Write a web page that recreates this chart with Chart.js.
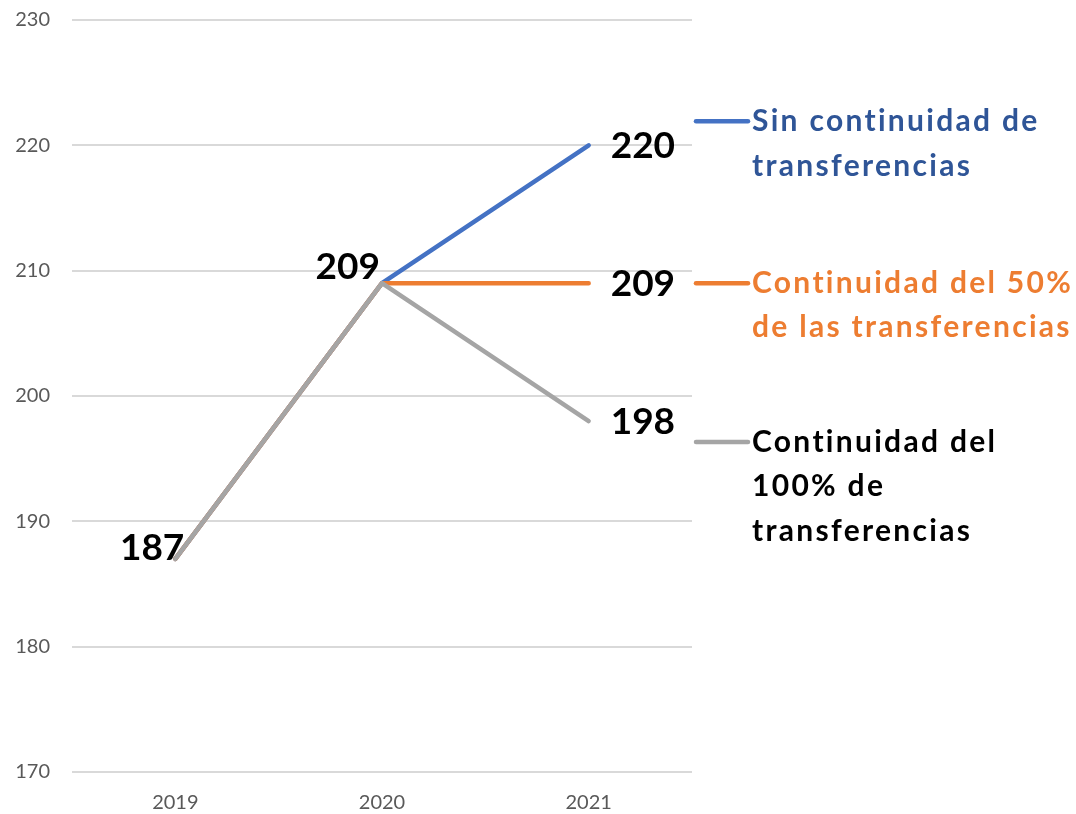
<!DOCTYPE html>
<html>
<head>
<meta charset="utf-8">
<script src="https://cdn.jsdelivr.net/npm/chart.js@4"></script>
<style>
  html, body { margin: 0; padding: 0; background: #fff; }
  #wrap { width: 1076px; height: 814px; }
</style>
</head>
<body>
<div id="wrap"><canvas id="chart" width="1076" height="814"></canvas></div>
<script>
// Data
const years = ["2019", "2020", "2021"];
const sinContinuidad = [187, 209, 220];
const continuidad50 = [187, 209, 209];
const continuidad100 = [187, 209, 198];
const yTicks = [170, 180, 190, 200, 210, 220, 230];

// Series names shown at the right (one entry per text line)
const names = {
  sin: ["Sin continuidad de", "transferencias"],
  c50: ["Continuidad del 50%", "de las transferencias"],
  c100: ["Continuidad del", "100% de", "transferencias"],
};

const BLUE = "#4472C4";
const ORANGE = "#ED7D31";
const GRAY = "#A5A5A5";

// Value labels + right-hand legend
const labelsPlugin = {
  id: "labelsPlugin",
  afterDatasetsDraw(chart) {
    const ctx = chart.ctx;
    const x = chart.scales.x;
    const y = chart.scales.y;
    const area = chart.chartArea;

    ctx.save();
    ctx.fillStyle = "#000";
    ctx.font = "bold 37px Lato";

    // 187 / 209 on the shared part
    ctx.textAlign = "right";
    ctx.textBaseline = "alphabetic";
    ctx.fillText(String(continuidad100[0]), x.getPixelForValue(0) + 9, y.getPixelForValue(continuidad100[0]) + 1);
    ctx.fillText(String(continuidad100[1]), x.getPixelForValue(1) - 2, y.getPixelForValue(continuidad100[1]) - 4);

    // end values
    ctx.textAlign = "left";
    ctx.textBaseline = "middle";
    const x21 = x.getPixelForValue(2) + 22;
    ctx.fillText(String(sinContinuidad[2]), x21, y.getPixelForValue(sinContinuidad[2]) + 1);
    ctx.fillText(String(continuidad50[2]), x21, y.getPixelForValue(continuidad50[2]) + 1);
    ctx.fillText(String(continuidad100[2]), x21, y.getPixelForValue(continuidad100[2]) + 1);

    // legend entries with connector lines
    const entries = [
      { lines: names.sin, line: BLUE, text: "#2F5597", yPos: y.getPixelForValue(sinContinuidad[2]) - 24 },
      { lines: names.c50, line: ORANGE, text: ORANGE, yPos: y.getPixelForValue(continuidad50[2]) },
      { lines: names.c100, line: GRAY, text: "#000", yPos: y.getPixelForValue(continuidad100[2]) + 21 },
    ];
    const lx0 = area.right + 4;
    const lx1 = area.right + 56;
    ctx.font = "bold 30px Lato";
    ctx.letterSpacing = "2.3px";
    ctx.textBaseline = "middle";
    entries.forEach((e) => {
      ctx.strokeStyle = e.line;
      ctx.lineWidth = 4.5;
      ctx.lineCap = "round";
      ctx.beginPath();
      ctx.moveTo(lx0, e.yPos);
      ctx.lineTo(lx1, e.yPos);
      ctx.stroke();
      ctx.fillStyle = e.text;
      e.lines.forEach((t, i) => {
        ctx.fillText(t, lx1 + 4, e.yPos + i * 44.5);
      });
    });
    ctx.restore();
  },
};

const ds = (label, data, color) => ({
  label: label,
  data: data,
  borderColor: color,
  backgroundColor: color,
  borderWidth: 4.5,
  borderCapStyle: "round",
  borderJoinStyle: "round",
  pointRadius: 0,
  tension: 0,
});

new Chart(document.getElementById("chart"), {
  type: "line",
  data: {
    labels: years,
    datasets: [
      // first dataset is drawn on top
      ds(names.c100.join(" "), continuidad100, GRAY),
      ds(names.c50.join(" "), continuidad50, ORANGE),
      ds(names.sin.join(" "), sinContinuidad, BLUE),
    ],
  },
  options: {
    responsive: false,
    animation: false,
    layout: { autoPadding: false, padding: { top: 20, right: 384, left: 0, bottom: 0 } },
    plugins: {
      legend: { display: false },
      tooltip: { enabled: false },
    },
    scales: {
      x: {
        offset: true,
        grid: { display: false, drawTicks: false },
        border: { display: false },
        ticks: { color: "#595959", font: { family: "Lato", size: 20 }, padding: 19 },
        afterFit(scale) { scale.height = 42; },
      },
      y: {
        min: yTicks[0],
        max: yTicks[yTicks.length - 1],
        afterBuildTicks(scale) { scale.ticks = yTicks.map((v) => ({ value: v })); },
        grid: { color: "#D9D9D9", lineWidth: 2, drawTicks: false },
        border: { display: false },
        ticks: { color: "#595959", font: { family: "Lato", size: 20 }, padding: 22 },
        afterFit(scale) {
          scale.width = 72;
          scale.paddingTop = 0;
          scale.paddingBottom = 0;
        },
      },
    },
  },
  plugins: [labelsPlugin],
});
</script>
</body>
</html>
